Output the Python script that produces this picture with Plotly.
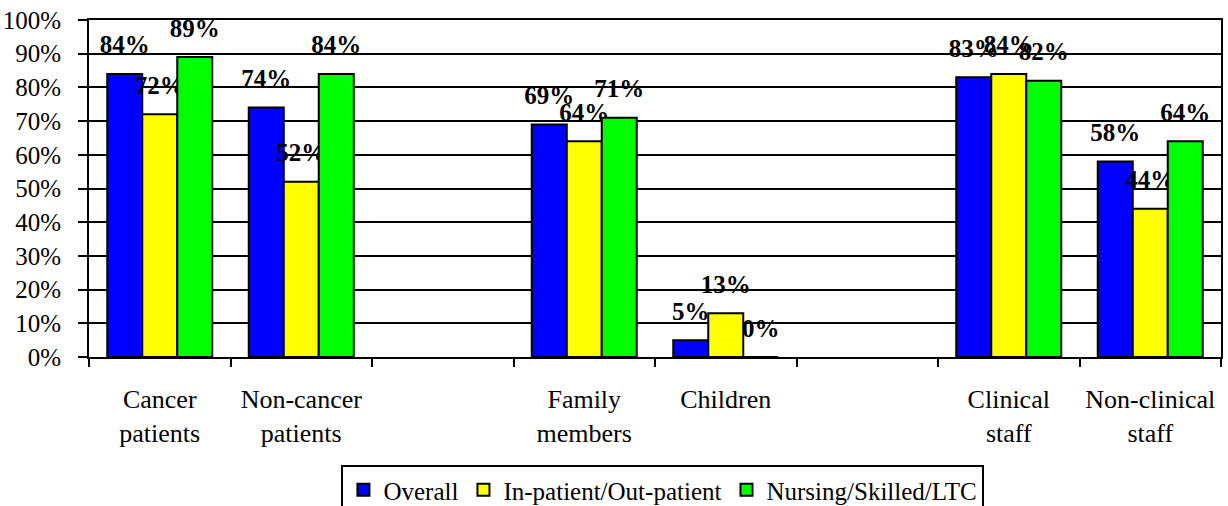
import plotly.graph_objects as go

categories = ["Cancer<br>patients", "Non-cancer<br>patients", " ",
              "Family<br>members", "Children", "  ",
              "Clinical<br>staff", "Non-clinical<br>staff"]
overall = [0.84, 0.74, None, 0.69, 0.05, None, 0.83, 0.58]
inpatient = [0.72, 0.52, None, 0.64, 0.13, None, 0.84, 0.44]
nursing = [0.89, 0.84, None, 0.71, 0.00, None, 0.82, 0.64]
series_names = ["Overall", "In-patient/Out-patient", "Nursing/Skilled/LTC"]
series_values = [overall, inpatient, nursing]
series_colors = ["#0000FF", "#FFFF00", "#00FF00"]

FONT = "Liberation Serif"
LABEL_LIFT = 0.037

fig = go.Figure()
for i, (name, vals, col) in enumerate(zip(series_names, series_values, series_colors)):
    grp = f"g{i}"
    fig.add_trace(go.Bar(
        x=categories, y=vals, name=name, offsetgroup=grp,
        marker=dict(color=col, line=dict(color="black", width=2)),
        hoverinfo="skip",
    ))
    fig.add_trace(go.Bar(
        x=categories,
        y=[LABEL_LIFT if v is not None else None for v in vals],
        base=[v if v is not None else None for v in vals],
        offsetgroup=grp, showlegend=False,
        marker=dict(color="rgba(0,0,0,0)", line=dict(width=0)),
        text=[f"{round(v*100)}%" if v is not None else "" for v in vals],
        textposition="outside", constraintext="none", cliponaxis=False,
        textfont=dict(family=FONT, size=25, color="black", weight="bold"),
        hoverinfo="skip",
    ))

fig.update_layout(
    width=1228, height=506,
    margin=dict(l=89, r=7, t=20, b=149, autoexpand=False),
    barmode="group", bargap=0.258, bargroupgap=0,
    plot_bgcolor="white", paper_bgcolor="white",
    font=dict(family=FONT, size=25, color="black"),
    showlegend=True,
    legend=dict(
        orientation="h", x=0.507, xanchor="center",
        yref="container", y=0.081, yanchor="top",
        bordercolor="black", borderwidth=2,
        font=dict(family=FONT, size=25, color="black"),
        itemwidth=30, tracegroupgap=0,
    ),
)
fig.update_xaxes(
    type="category", categoryorder="array", categoryarray=categories,
    range=[-0.5, 7.5], tickson="boundaries", automargin=False,
    ticks="outside", ticklen=8, tickwidth=2, tickcolor="black",
    showline=True, linewidth=2, linecolor="black", mirror=True,
    showgrid=False, ticklabelstandoff=18,
    tickfont=dict(family=FONT, size=26, color="black"),
)
fig.update_yaxes(
    range=[0, 1], dtick=0.1, tickformat=".0%", automargin=False,
    ticks="outside", ticklen=9, tickwidth=2, tickcolor="black",
    showline=True, linewidth=2, linecolor="black", mirror=True,
    showgrid=True, gridcolor="black", gridwidth=2, zeroline=False,
    ticklabelstandoff=12,
    tickfont=dict(family=FONT, size=25, color="black"),
)

fig.write_html("out.html", config={"displayModeBar": False},
               post_script="document.body.style.margin='0';")
